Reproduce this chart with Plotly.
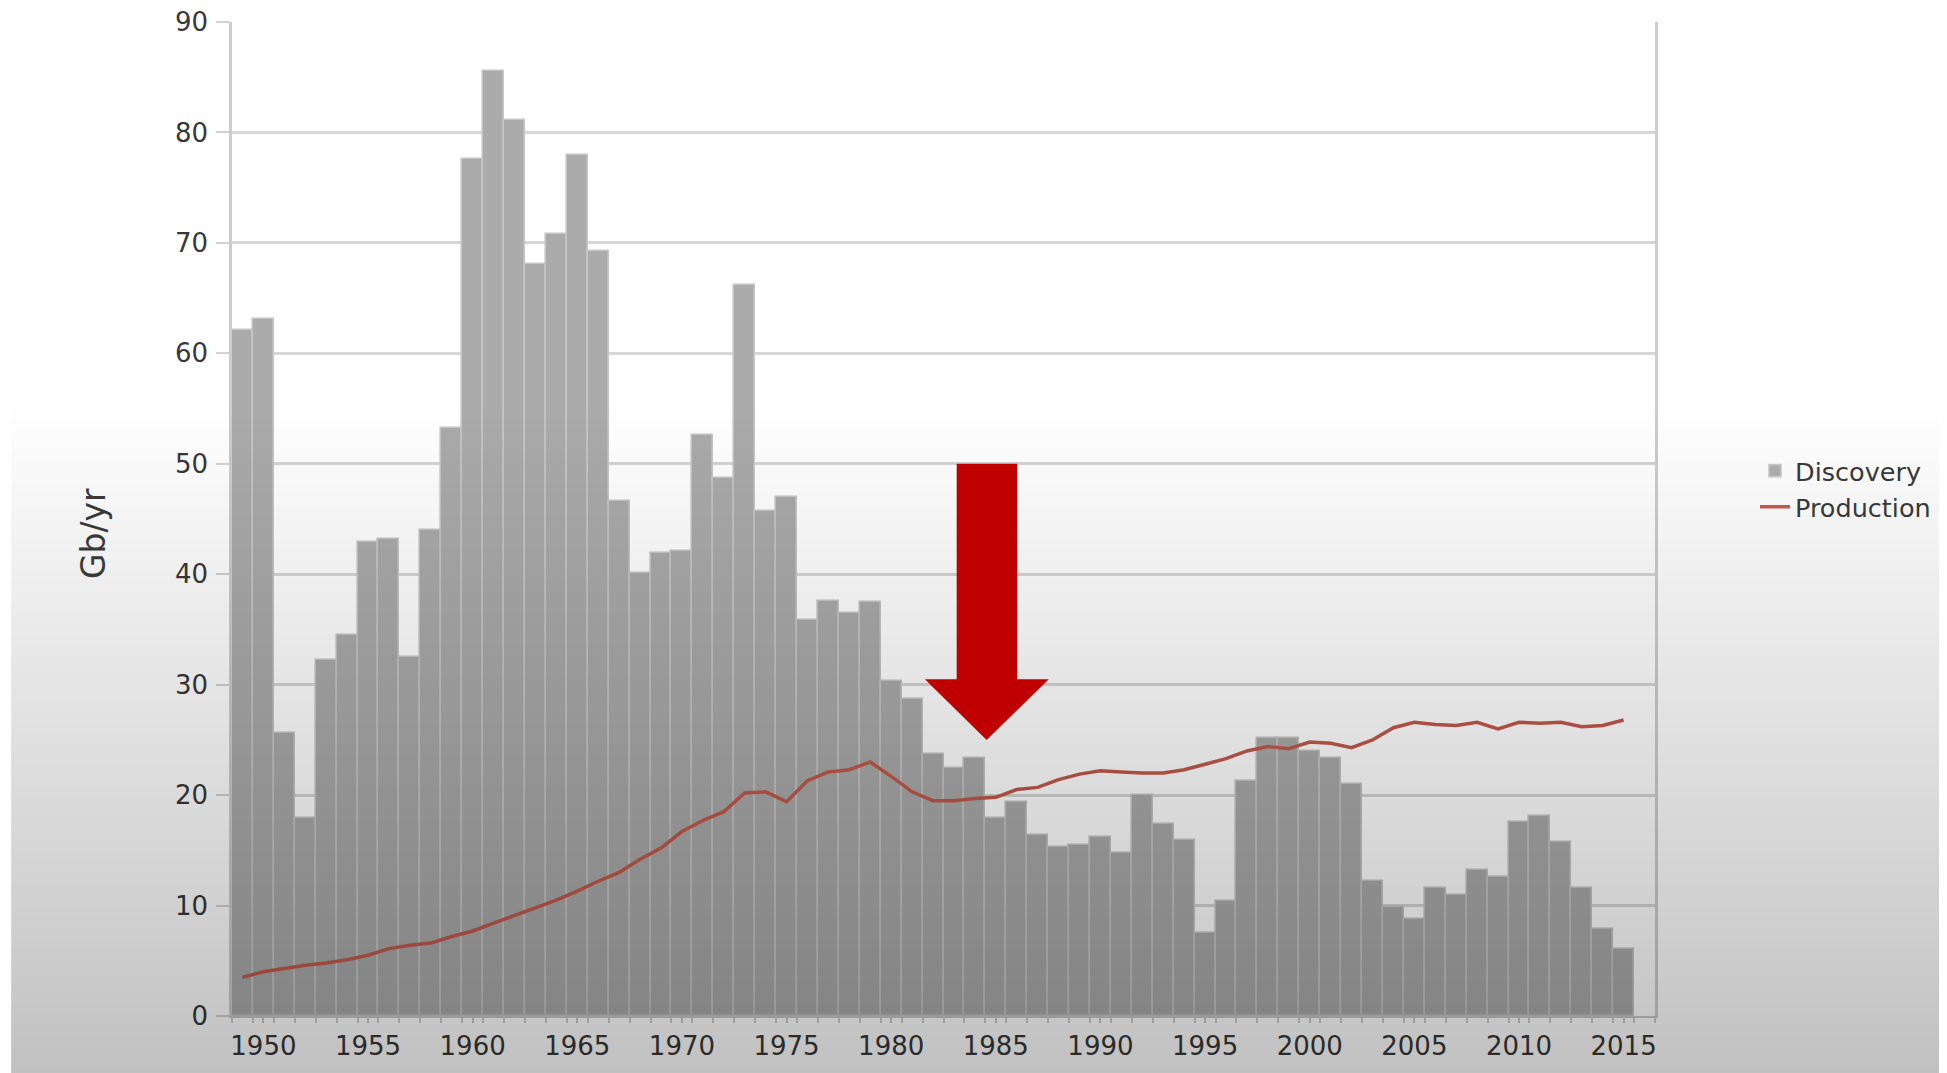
import base64
import struct
import zlib

import plotly.graph_objects as go

# ---------------- data ----------------
years = list(range(1949, 2016))
discovery = [62.1, 63.1, 25.6, 17.9, 32.2, 34.5, 42.9, 43.2, 32.5, 44.0,
             53.2, 77.6, 85.6, 81.1, 68.1, 70.8, 78.0, 69.3, 46.6, 40.1,
             41.9, 42.1, 52.6, 48.7, 66.2, 45.7, 47.0, 35.9, 37.6, 36.5,
             37.5, 30.3, 28.7, 23.7, 22.5, 23.4, 17.9, 19.4, 16.4, 15.3,
             15.5, 16.2, 14.8, 20.0, 17.4, 15.9, 7.5, 10.4, 21.3, 25.2,
             25.2, 24.0, 23.4, 21.0, 12.2, 9.9, 8.8, 11.6, 11.0, 13.2,
             12.6, 17.6, 18.1, 15.8, 11.6, 7.9, 6.1]
production = [3.5, 4.0, 4.3, 4.6, 4.8, 5.1, 5.5, 6.1, 6.4, 6.6,
              7.2, 7.7, 8.4, 9.1, 9.8, 10.5, 11.3, 12.2, 13.0, 14.2,
              15.2, 16.7, 17.7, 18.5, 20.2, 20.3, 19.4, 21.3, 22.1, 22.3,
              23.0, 21.7, 20.3, 19.5, 19.5, 19.7, 19.8, 20.5, 20.7, 21.4,
              21.9, 22.2, 22.1, 22.0, 22.0, 22.3, 22.8, 23.3, 24.0, 24.4,
              24.2, 24.8, 24.7, 24.3, 25.0, 26.1, 26.6, 26.4, 26.3, 26.6,
              26.0, 26.6, 26.5, 26.6, 26.2, 26.3, 26.8]
x_tick_vals = [1950, 1955, 1960, 1965, 1970, 1975, 1980, 1985, 1990, 1995,
               2000, 2005, 2010, 2015]
y_tick_vals = [0, 10, 20, 30, 40, 50, 60, 70, 80, 90]
y_title = "Gb/yr"

# ---------------- figure geometry ----------------
# the page body has an 8 px default margin, so the figure is drawn 8 px
# smaller and all pixel targets are expressed in screen coordinates
OFF = 8
W, H = 1947 - OFF, 1073 - OFF
ML = 232 - OFF
MT = 22 - OFF
MB = H - (1016 - OFF)
MR = W - (1656 - OFF)
PW, PH = W - ML - MR, H - MT - MB


def px_to_paper_x(px):          # px in screen coordinates
    return (px - OFF - ML) / PW


def px_to_paper_y(py):          # py in screen coordinates
    return (H - MB - (py - OFF)) / PH


# gradient overlay (video vignette: darker toward the bottom)
def gradient_png(rows=256, max_alpha=62):
    raw = b""
    for i in range(rows):
        a = round(max_alpha * i / (rows - 1))
        raw += b"\x00" + bytes([0, 0, 0, a]) * 4

    def chunk(t, d):
        c = struct.pack(">I", len(d)) + t + d
        return c + struct.pack(">I", zlib.crc32(t + d) & 0xFFFFFFFF)

    ihdr = struct.pack(">IIBBBBB", 4, rows, 8, 6, 0, 0, 0)
    data = (b"\x89PNG\r\n\x1a\n" + chunk(b"IHDR", ihdr)
            + chunk(b"IDAT", zlib.compress(raw)) + chunk(b"IEND", b""))
    return "data:image/png;base64," + base64.b64encode(data).decode()


font_family = "DejaVu Sans"
text_color = "#383838"

fig = go.Figure()
fig.add_trace(go.Bar(
    x=years, y=discovery, name="Discovery",
    marker=dict(color="#ababab", line=dict(color="#c6c6c6", width=1.6)),
))
fig.add_trace(go.Scatter(
    x=years, y=production, name="Production", mode="lines",
    line=dict(color="#c25a4c", width=3.5),
))

# red arrow annotation pointing at the mid-1980s
arrow_path = ("M 1983.13,50 L 1986.02,50 L 1986.02,30.5 L 1987.53,30.5 "
              "L 1984.56,25 L 1981.61,30.5 L 1983.13,30.5 Z")

fig.update_layout(
    width=W, height=H,
    margin=dict(l=ML, r=MR, t=MT, b=MB),
    paper_bgcolor="white",
    plot_bgcolor="rgba(0,0,0,0)",
    bargap=0,
    showlegend=True,
    legend=dict(
        x=px_to_paper_x(1755), y=px_to_paper_y(489),
        xanchor="left", yanchor="middle",
        font=dict(family=font_family, size=25.5, color=text_color),
        bgcolor="rgba(0,0,0,0)",
        itemwidth=30,
        tracegroupgap=0,
    ),
    xaxis=dict(
        range=[1948.5, 2016.5],
        automargin=False,
        tickmode="array", tickvals=x_tick_vals,
        ticks="outside", ticklen=5, tickcolor="#c8c8c8", tickwidth=1.5,
        minor=dict(dtick=1, tick0=1948.5, ticks="outside", ticklen=5,
                   tickcolor="#cfcfcf", tickwidth=1.5),
        ticklabelstandoff=1,
        showgrid=False,
        showline=True, linecolor="#c8c8c8", linewidth=2,
        tickfont=dict(family=font_family, size=26, color=text_color),
        zeroline=False,
    ),
    yaxis=dict(
        range=[0, 90],
        automargin=False,
        ticklabeloverflow="allow",
        tickmode="array", tickvals=y_tick_vals,
        ticks="outside", ticklen=13, tickcolor="#d2d2d2", tickwidth=2,
        ticklabelstandoff=3,
        showgrid=True, gridcolor="#d6d6d6", gridwidth=2.5,
        showline=True, linecolor="#cdcdcd", linewidth=2.5, mirror=True,
        tickfont=dict(family=font_family, size=26, color=text_color),
        zeroline=False,
    ),
    annotations=[dict(
        text=y_title, textangle=-90, showarrow=False,
        xref="paper", yref="paper",
        x=px_to_paper_x(93), y=px_to_paper_y(534),
        xanchor="center", yanchor="middle",
        font=dict(family=font_family, size=33, color=text_color),
    )],
    images=[dict(
        source=gradient_png(),
        xref="paper", yref="paper",
        x=px_to_paper_x(11), y=px_to_paper_y(400),
        sizex=px_to_paper_x(1947) - px_to_paper_x(11),
        sizey=px_to_paper_y(400) - px_to_paper_y(1073),
        xanchor="left", yanchor="top",
        sizing="stretch", layer="above",
    )],
    shapes=[dict(
        type="path", path=arrow_path, xref="x", yref="y",
        fillcolor="#c00000", line=dict(width=0), layer="above",
    )],
)

fig.write_html("out.html")
